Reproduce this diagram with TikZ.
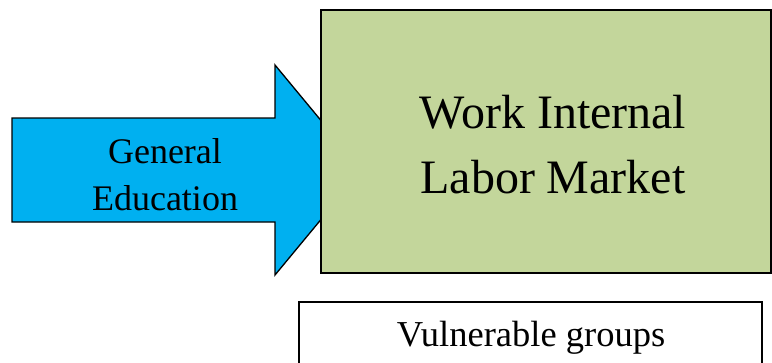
\documentclass[tikz,border=0pt]{standalone}
\usepackage{fontspec}
\setmainfont{Liberation Serif}
\usepackage{xcolor}

\definecolor{arrowblue}{HTML}{00B0F0}
\definecolor{marketgreen}{HTML}{C3D69B}

\tikzset{
  arrowshape/.style={draw=black, line width=1.3pt, fill=arrowblue, line join=miter},
  marketbox/.style={draw=black, line width=1.3pt, fill=marketgreen},
  groupbox/.style={draw=black, line width=1.3pt, fill=white},
  label/.style={align=center, inner sep=0pt, anchor=base}
}

\begin{document}
\begin{tikzpicture}[x=1pt,y=-1pt]
\useasboundingbox (0,0) rectangle (772,362);

% blue arrow (tip hidden behind the box):
\draw[arrowshape] (12,118) coordinate(A) -- (275,118) -- (275,65) -- (362,170)
  -- (275,275) -- (275,222) -- (12,222) -- cycle;
\node[label, font=\fontsize{36}{47}\selectfont] (educ) at (165,210) {General\\Education};

% market box:
\draw[marketbox] (321,10) coordinate(M) rectangle (771,273);
\node[label, font=\fontsize{48}{65}\selectfont] (market) at (553,193) {Work Internal\\Labor Market};

% vulnerable groups box:
\draw[groupbox] (299,302) coordinate(V) rectangle (762,375);
\node[label, font=\fontsize{36.5}{44}\selectfont] (groups) at (531,346) {Vulnerable groups};

\end{tikzpicture}
\end{document}
